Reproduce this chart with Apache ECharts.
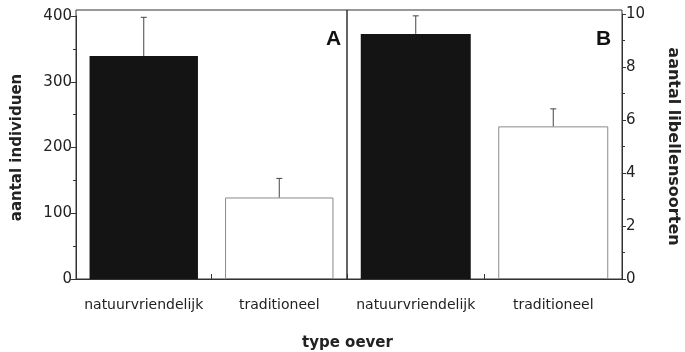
<!DOCTYPE html>
<html>
<head>
<meta charset="utf-8">
<script src="https://cdn.jsdelivr.net/npm/echarts@6/dist/echarts.min.js"></script>
<style>
html,body{margin:0;padding:0;background:#fff;}
#chart{width:685px;height:352px;}
</style>
</head>
<body>
<div id="chart"></div>
<script>
// ---- data ----
var categories = ['natuurvriendelijk', 'traditioneel'];
var individuen = [339, 124];          // panel A, bar heights
var individuenErrTop = [398, 153];    // panel A, upper end of error bar
var soorten = [9.25, 5.76];           // panel B, bar heights
var soortenErrTop = [9.93, 6.42];     // panel B, upper end of error bar
var leftTicks = [0, 100, 200, 300, 400];
var rightTicks = [0, 2, 4, 6, 8, 10];

var chart = echarts.init(document.getElementById('chart'), null, {renderer: 'canvas'});

var ink = '#222';
var lineCol = '#333';
var tickFont = 'DejaVu Sans';

function errItem(params, api) {
  var x = api.value(0), lo = api.value(1), hi = api.value(2);
  var p0 = api.coord([x, lo]);
  var p1 = api.coord([x, hi]);
  var cap = 3;
  return {
    type: 'group',
    children: [
      {type: 'line', shape: {x1: p0[0], y1: p0[1], x2: p1[0], y2: p1[1]}, style: {stroke: '#444', lineWidth: 1}},
      {type: 'line', shape: {x1: p1[0] - cap, y1: p1[1], x2: p1[0] + cap, y2: p1[1]}, style: {stroke: '#444', lineWidth: 1}}
    ]
  };
}

var barColors = [
  {color: '#141414', borderColor: '#141414', borderWidth: 0},
  {color: '#ffffff', borderColor: '#8a8a8a', borderWidth: 1}
];

function barData(vals) {
  return vals.map(function (v, i) { return {value: v, itemStyle: barColors[i]}; });
}

function catAxis(gridIndex) {
  return {
    type: 'category', gridIndex: gridIndex, data: categories,
    boundaryGap: true,
    axisLine: {show: true, lineStyle: {color: lineCol, width: 1}},
    axisTick: {show: true, inside: true, length: 5, interval: 0, lineStyle: {color: lineCol}},
    axisLabel: {color: ink, fontFamily: tickFont, fontSize: 14, margin: 19, interval: 0, hideOverlap: false},
    splitLine: {show: false}
  };
}

var option = {
  backgroundColor: '#ffffff',
  animation: false,
  title: [
    {text: 'type oever', left: 297, top: 331, textStyle: {fontFamily: 'DejaVu Sans', fontWeight: 'bold', fontSize: 15, color: ink}},
    {text: 'A', left: 321, top: 24, textStyle: {fontFamily: 'Liberation Sans', fontWeight: 'bold', fontSize: 21, color: '#111'}},
    {text: 'B', left: 591, top: 24, textStyle: {fontFamily: 'Liberation Sans', fontWeight: 'bold', fontSize: 21, color: '#111'}}
  ],
  grid: [
    {left: 76, top: 16, width: 271, height: 263},
    {left: 347, top: 14, width: 275, height: 265},
    {left: 76, top: 10, width: 271, height: 269, show: true, borderColor: lineCol, borderWidth: 1, backgroundColor: 'transparent'},
    {left: 347, top: 10, width: 275, height: 269, show: true, borderColor: lineCol, borderWidth: 1, backgroundColor: 'transparent'}
  ],
  xAxis: [
    catAxis(0),
    catAxis(1),
    {type: 'value', gridIndex: 2, show: false},
    {type: 'value', gridIndex: 3, show: false}
  ],
  yAxis: [
    {
      type: 'value', gridIndex: 0, position: 'left',
      min: leftTicks[0], max: leftTicks[leftTicks.length - 1], interval: 100,
      name: 'aantal individuen', nameLocation: 'middle', nameGap: 51,
      nameTextStyle: {fontFamily: 'DejaVu Sans', fontWeight: 'bold', fontSize: 15, color: ink},
      axisLine: {show: true, lineStyle: {color: lineCol, width: 1}},
      axisTick: {show: true, inside: false, length: 5, lineStyle: {color: lineCol}},
      minorTick: {show: true, splitNumber: 2, length: 3, lineStyle: {color: lineCol}},
      axisLabel: {color: ink, fontFamily: tickFont, fontSize: 15, margin: 4},
      splitLine: {show: false}, minorSplitLine: {show: false}
    },
    {
      type: 'value', gridIndex: 1, position: 'right',
      min: rightTicks[0], max: rightTicks[rightTicks.length - 1], interval: 2,
      name: 'aantal libellensoorten', nameLocation: 'middle', nameGap: 43, nameRotate: -90,
      nameTextStyle: {fontFamily: 'DejaVu Sans', fontWeight: 'bold', fontSize: 16, color: ink},
      axisLine: {show: true, lineStyle: {color: lineCol, width: 1}},
      axisTick: {show: true, inside: false, length: 4, lineStyle: {color: lineCol}},
      minorTick: {show: true, splitNumber: 2, length: 3, lineStyle: {color: lineCol}},
      axisLabel: {color: ink, fontFamily: tickFont, fontSize: 15, margin: 4},
      splitLine: {show: false}, minorSplitLine: {show: false}
    },
    {type: 'value', gridIndex: 2, show: false},
    {type: 'value', gridIndex: 3, show: false}
  ],
  series: [
    {type: 'bar', xAxisIndex: 0, yAxisIndex: 0, barWidth: '80%', data: barData(individuen), z: 2},
    {type: 'bar', xAxisIndex: 1, yAxisIndex: 1, barWidth: '80%', data: barData(soorten), z: 2},
    {type: 'custom', xAxisIndex: 0, yAxisIndex: 0, renderItem: errItem, z: 3,
      data: categories.map(function (c, i) { return [i, individuen[i], individuenErrTop[i]]; })},
    {type: 'custom', xAxisIndex: 1, yAxisIndex: 1, renderItem: errItem, z: 3,
      data: categories.map(function (c, i) { return [i, soorten[i], soortenErrTop[i]]; })}
  ]
};

chart.setOption(option);
</script>
</body>
</html>
